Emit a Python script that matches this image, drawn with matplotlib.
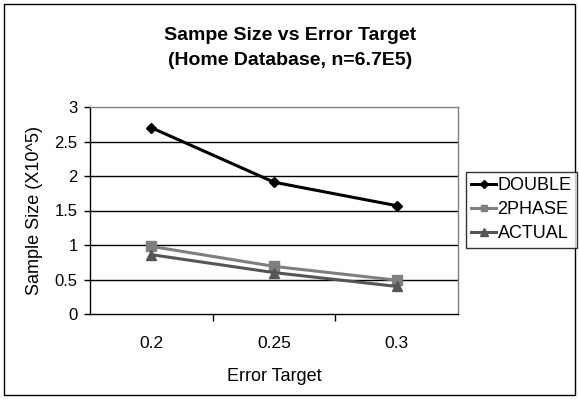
import matplotlib
matplotlib.use("Agg")
import matplotlib.pyplot as plt
from matplotlib.patches import Rectangle
from matplotlib.ticker import FixedLocator

plt.rcParams['font.family'] = ['Liberation Sans', 'DejaVu Sans']

error_targets = ["0.2", "0.25", "0.3"]
double = [2.70, 1.91, 1.57]
two_phase = [0.98, 0.69, 0.49]
actual = [0.86, 0.60, 0.40]
y_ticks = [0, 0.5, 1, 1.5, 2, 2.5, 3]

fig = plt.figure(figsize=(5.79, 3.99), dpi=100)
ax = fig.add_axes([90 / 579, 1 - 314 / 399, (458 - 90) / 579, (314 - 107) / 399])

x = list(range(len(error_targets)))
ax.plot(x, double, color="black", marker="D", markersize=5.5, linewidth=2.2, label="DOUBLE")
ax.plot(x, two_phase, color="#7f7f7f", marker="s", markersize=6.5, linewidth=2.2, label="2PHASE")
ax.plot(x, actual, color="#555555", marker="^", markersize=7, linewidth=2.2, label="ACTUAL")

ax.set_xlim(-0.5, len(error_targets) - 0.5)
ax.set_ylim(0, 3)
ax.set_yticks(y_ticks)
ax.set_yticklabels([f"{v:g}" for v in y_ticks])
ax.set_xticks(x)
ax.set_xticklabels(error_targets)
ax.xaxis.set_minor_locator(FixedLocator([i + 0.5 for i in x[:-1]]))
ax.tick_params(axis="x", which="major", length=0, pad=16, labelsize=12.5)
ax.tick_params(axis="x", which="minor", length=5, width=1)
ax.tick_params(axis="y", which="major", length=4, width=1, labelsize=12, pad=5)

# Horizontal gridlines between the bottom and top of the plot area
for v in y_ticks[1:-1]:
    ax.axhline(v, color="black", linewidth=1, zorder=0)

for side in ["top", "right"]:
    ax.spines[side].set_color("#808080")
    ax.spines[side].set_linewidth(1)
for side in ["left", "bottom"]:
    ax.spines[side].set_color("black")
    ax.spines[side].set_linewidth(1)

ax.set_xlabel("Error Target", fontsize=13, labelpad=12)
ax.set_ylabel("Sample Size (X10^5)", fontsize=13, labelpad=8)

fig.text(290 / 579, 1 - 48 / 399,
         "Sampe Size vs Error Target\n(Home Database, n=6.7E5)",
         ha="center", va="center", fontsize=14, fontweight="bold", linespacing=1.55)

leg = fig.legend(loc="upper left", bbox_to_anchor=(466 / 579, 1 - 172 / 399),
                 frameon=True, fancybox=False, fontsize=13, handlelength=1.35,
                 handletextpad=0.1, borderpad=0.3, labelspacing=0.38,
                 borderaxespad=0, markerscale=0.75)
leg.get_frame().set_edgecolor("black")
leg.get_frame().set_linewidth(1)

# Outer border around the whole chart
fig.patches.append(Rectangle((4 / 579, 4 / 399), 571 / 579, 391 / 399,
                             transform=fig.transFigure, fill=False,
                             edgecolor="black", linewidth=1))

fig.savefig("out.png", dpi=100)
